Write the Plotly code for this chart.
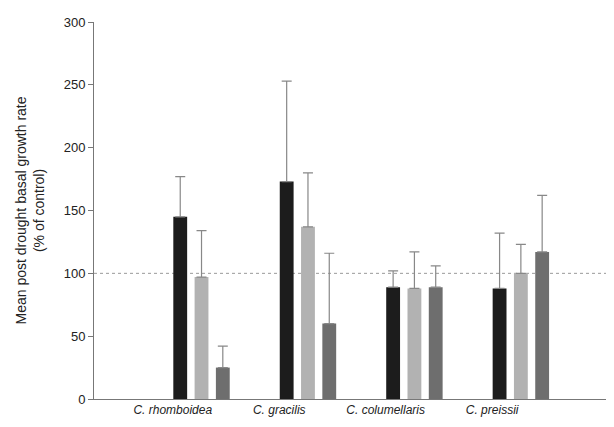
import plotly.graph_objects as go

species = ["C. rhomboidea", "C. gracilis", "C. columellaris", "C. preissii"]
dark_vals = [145, 173, 89, 88]
dark_err = [32, 80, 13, 44]
light_vals = [97, 137, 88, 100]
light_err = [37, 43, 29, 23]
mid_vals = [25, 60, 89, 117]
mid_err = [17, 56, 17, 45]

pos = list(range(len(species)))
fig = go.Figure()
series = [(dark_vals, dark_err, "#1c1c1c", -0.2),
          (light_vals, light_err, "#b2b2b2", 0.0),
          (mid_vals, mid_err, "#6e6e6e", 0.2)]
for vals, err, col, off in series:
    fig.add_trace(go.Bar(
        x=[p + off for p in pos], y=vals, width=0.13,
        marker=dict(color=col, line=dict(width=0)),
        error_y=dict(type="data", array=err, arrayminus=[0] * len(err),
                     color="#888888", thickness=1.2, width=5),
        showlegend=False))

fig.add_shape(type="line", xref="paper", x0=0, x1=1, y0=100, y1=100,
              line=dict(color="#999999", width=1, dash="dot"), layer="below")

fig.update_layout(
    width=614, height=427, plot_bgcolor="white", paper_bgcolor="white",
    margin=dict(l=86, r=0, t=14, b=36),
    font=dict(family="Liberation Sans, Arial", size=13, color="#222"),
    xaxis=dict(range=[-1.01, 3.95], tickvals=[p - 0.27 for p in pos],
               ticktext=["<i>%s</i>" % s for s in species], showline=True,
               linecolor="#777", ticks="", showgrid=False, zeroline=False,
               tickfont=dict(size=12)),
    yaxis=dict(range=[0, 300], dtick=50, showline=True, linecolor="#777",
               ticks="outside", ticklen=5, tickcolor="#777", showgrid=False,
               zeroline=False,
               title=dict(text="Mean post drought basal growth rate<br>(% of control)",
                          font=dict(size=14))),
)
fig.write_html("out.html")
